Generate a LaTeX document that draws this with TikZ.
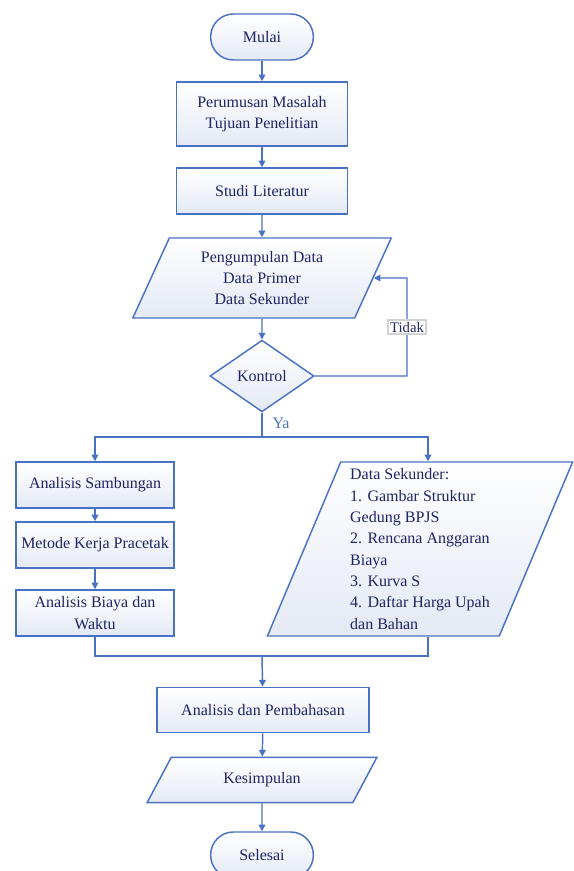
\documentclass[tikz,border=0pt]{standalone}
\usepackage{fontspec}
\setmainfont{Liberation Serif}
\usetikzlibrary{shapes.geometric,arrows.meta}
\definecolor{flowline}{HTML}{4A72C4}
\definecolor{flowtext}{HTML}{1F2464}
\definecolor{flowfill}{HTML}{E4E9F4}

\begin{document}
\begin{tikzpicture}[x=0.75pt,y=-0.75pt]
    \tikzstyle{block}=[draw=flowline,line width=1.1pt,top color=white,
        bottom color=flowfill,text=flowtext,align=center,inner sep=2pt,
        font=\fontsize{12}{16}\selectfont]
    \tikzstyle{process}=[block,rectangle,minimum width=128pt,minimum height=34.5pt]
    \tikzstyle{terminal}=[block,rectangle,rounded corners=17pt,minimum width=77pt,minimum height=34.5pt]
    \tikzstyle{io}=[block,trapezium,trapezium stretches=true]
    \tikzstyle{decision}=[block,diamond,minimum width=78pt,minimum height=51pt]
    \tikzstyle{flow}=[draw=flowline,line width=1.1pt]
    \tikzstyle{arrow}=[flow,-{Triangle[length=5pt,width=5pt]}]
    \useasboundingbox (0,0) rectangle (574,871);
    % Main column
    \node[terminal] (mulai) at (262,37) {Mulai};
    \node[process,minimum height=48pt] (rumus) at (262,114) {Perumusan Masalah\\Tujuan Penelitian};
    \node[process] (studi) at (262,191) {Studi Literatur};
    \node[io,trapezium left angle=67,trapezium right angle=113,
        minimum width=194pt,minimum height=60pt] (kumpul) at (262,278)
        {Pengumpulan Data\\Data Primer\\Data Sekunder};
    \node[decision] (kontrol) at (262,376) {Kontrol};
    % Left column
    \node[process,minimum width=118.5pt] (sambung) at (95,485) {Analisis Sambungan};
    \node[process,minimum width=118.5pt] (metode) at (95,545) {Metode Kerja Pracetak};
    \node[process,minimum width=118.5pt] (biaya) at (95,613) {Analisis Biaya dan\\Waktu};
    % Right column
    \node[io,trapezium left angle=68,trapezium right angle=112,align=left,
        minimum width=229pt,minimum height=130.5pt] (sekunder) at (420,549)
        {Data Sekunder:\\1. Gambar Struktur\\Gedung BPJS\\2. Rencana Anggaran\\Biaya\\3. Kurva S\\4. Daftar Harga Upah\\dan Bahan};
    % Bottom
    \node[process,minimum width=159pt,minimum height=34pt] (bahas) at (263,710) {Analisis dan Pembahasan};
    \node[io,trapezium left angle=61,trapezium right angle=119,
        minimum width=173pt,minimum height=34pt] (simpul) at (262,780) {Kesimpulan};
    \node[terminal] (selesai) at (262,855) {Selesai};
    % Connectors
    \coordinate (loop) at (407,278);
    \coordinate (split) at (262,437);
    \coordinate (merge) at (262,656);
    \draw[arrow] (mulai) -- (rumus);
    \draw[arrow] (rumus) -- (studi);
    \draw[arrow] (studi) -- (kumpul);
    \draw[arrow] (kumpul) -- (kontrol);
    \draw[arrow] (kontrol.east) -| (loop) node[pos=0.75,fill=white,draw=gray!35,
        inner sep=1.5pt,text=flowtext,font=\fontsize{11}{13}\selectfont] (tidak) {Tidak}
        -- (kumpul.east);
    \draw[flow] (kontrol.south) -- (split) node[pos=0.45,right,xshift=4pt,text=flowline,
        font=\fontsize{12}{14}\selectfont] (ya) {Ya};
    \draw[arrow] (split) -| (sambung.north);
    \draw[arrow] (split) -| ([xshift=6pt]sekunder.north);
    \draw[arrow] (sambung) -- (metode);
    \draw[arrow] (metode) -- (biaya);
    \draw[flow] (biaya.south) |- (merge);
    \draw[flow] ([xshift=6pt]sekunder.south) |- (merge);
    \draw[arrow] (merge) -- (bahas);
    \draw[arrow] (bahas) -- (simpul);
    \draw[arrow] (simpul) -- (selesai);
\end{tikzpicture}
\end{document}
